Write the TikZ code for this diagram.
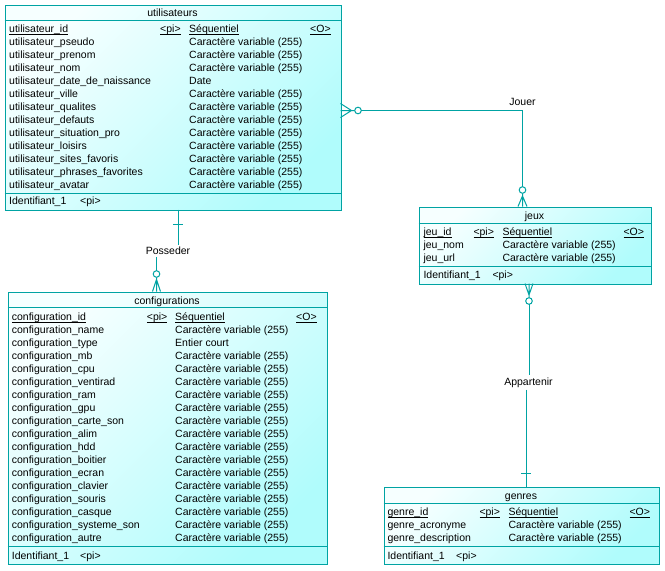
\documentclass[tikz,border=0pt]{standalone}
\usepackage{fontspec}
\setmainfont{Liberation Sans}
\usetikzlibrary{positioning}

\definecolor{ermteal}{RGB}{0,163,163}
\definecolor{ermlight}{RGB}{246,255,255}
\definecolor{ermcyan}{RGB}{176,252,252}
\newcommand{\varchar}{Caract\`ere variable (255)}
\newcommand{\ulkey}[1]{\setbox0\hbox{#1}\rlap{\rule[-1.9pt]{\wd0}{0.8pt}}\box0}

\begin{document}
\begin{tikzpicture}[
  x=1pt, y=-1pt,
  font=\fontsize{10.5}{12}\selectfont,
  entity/.style={draw=ermteal, line width=1pt, top color=ermlight, bottom color=ermcyan, shading angle=45, anchor=north west, inner sep=0pt},
  sep/.style={draw=ermteal, line width=1pt},
  title/.style={anchor=base, inner sep=0pt},
  fld/.style={anchor=base west, inner sep=0pt},
  rel/.style={draw=ermteal, line width=1pt},
  lbl/.style={anchor=base, inner sep=2pt}
]
  \useasboundingbox (0,0) rectangle (665,571);

  % utilisateurs
  \node[entity, minimum width=336pt, minimum height=205pt] (utilisateurs) at (4.5,4.5) {};
  \node[title] (u-title) at (172.5,16.3) {utilisateurs};
  \draw[sep] (4.5,20.5) -- (340.5,20.5);
  \draw[sep] (4.5,193.5) -- (340.5,193.5);
  \node[fld] (u-id) at (9,32.7) {\ulkey{utilisateur\_id}};
  \node[fld] (u-pi) at (160,32.7) {\ulkey{<pi>}};
  \node[fld] (u-seq) at (189,32.7) {\ulkey{Séquentiel}};
  \node[fld] (u-o) at (310,32.7) {\ulkey{<O>}};
  \foreach \f/\t [count=\i] in {pseudo/\varchar, prenom/\varchar, nom/\varchar,
      date\_de\_naissance/Date, ville/\varchar, qualites/\varchar, defauts/\varchar,
      situation\_pro/\varchar, loisirs/\varchar, sites\_favoris/\varchar,
      phrases\_favorites/\varchar, avatar/\varchar} {
    \node[fld] (u-\i) at (9,32.7+13*\i) {utilisateur\_\f};
    \node[fld] (u-t\i) at (189,32.7+13*\i) {\t};
  }
  \node[fld] (u-foot) at (9,204.7) {Identifiant\_1};
  \node[fld] (u-fpi) at (80,204.7) {<pi>};

  % configurations
  \node[entity, minimum width=319pt, minimum height=272pt] (configurations) at (7.5,291.5) {};
  \node[title] (c-title) at (167,304) {configurations};
  \draw[sep] (7.5,307.5) -- (326.5,307.5);
  \draw[sep] (7.5,546.5) -- (326.5,546.5);
  \node[fld] (c-id) at (11.7,320.7) {\ulkey{configuration\_id}};
  \node[fld] (c-pi) at (146.7,320.7) {\ulkey{<pi>}};
  \node[fld] (c-seq) at (175,320.7) {\ulkey{Séquentiel}};
  \node[fld] (c-o) at (296,320.7) {\ulkey{<O>}};
  \foreach \f/\t [count=\i] in {name/\varchar, type/Entier court, mb/\varchar,
      cpu/\varchar, ventirad/\varchar, ram/\varchar, gpu/\varchar,
      carte\_son/\varchar, alim/\varchar, hdd/\varchar, boitier/\varchar,
      ecran/\varchar, clavier/\varchar, souris/\varchar, casque/\varchar,
      systeme\_son/\varchar, autre/\varchar} {
    \node[fld] (c-\i) at (11.7,320.7+13*\i) {configuration\_\f};
    \node[fld] (c-t\i) at (175,320.7+13*\i) {\t};
  }
  \node[fld] (c-foot) at (11.7,559) {Identifiant\_1};
  \node[fld] (c-fpi) at (80,559) {<pi>};

  % jeux
  \node[entity, minimum width=232pt, minimum height=77pt] (jeux) at (418.5,206.5) {};
  \node[title] (j-title) at (534.5,219.5) {jeux};
  \draw[sep] (418.5,223.5) -- (650.5,223.5);
  \draw[sep] (418.5,266.5) -- (650.5,266.5);
  \node[fld] (j-id) at (423.3,235.7) {\ulkey{jeu\_id}};
  \node[fld] (j-pi) at (473.3,235.7) {\ulkey{<pi>}};
  \node[fld] (j-seq) at (502.3,235.7) {\ulkey{Séquentiel}};
  \node[fld] (j-o) at (623.3,235.7) {\ulkey{<O>}};
  \node[fld] (j-1) at (423.3,248.7) {jeu\_nom};
  \node[fld] (j-t1) at (502.3,248.7) {\varchar};
  \node[fld] (j-2) at (423.3,261.7) {jeu\_url};
  \node[fld] (j-t2) at (502.3,261.7) {\varchar};
  \node[fld] (j-foot) at (423.3,278) {Identifiant\_1};
  \node[fld] (j-fpi) at (492.3,278) {<pi>};

  % genres
  \node[entity, minimum width=275pt, minimum height=77pt] (genres) at (383.5,486.5) {};
  \node[title] (g-title) at (521,499) {genres};
  \draw[sep] (383.5,503.5) -- (658.5,503.5);
  \draw[sep] (383.5,546.5) -- (658.5,546.5);
  \node[fld] (g-id) at (387.3,515.7) {\ulkey{genre\_id}};
  \node[fld] (g-pi) at (479.3,515.7) {\ulkey{<pi>}};
  \node[fld] (g-seq) at (508.3,515.7) {\ulkey{Séquentiel}};
  \node[fld] (g-o) at (629.3,515.7) {\ulkey{<O>}};
  \node[fld] (g-1) at (387.3,528.7) {genre\_acronyme};
  \node[fld] (g-t1) at (508.3,528.7) {\varchar};
  \node[fld] (g-2) at (387.3,541.7) {genre\_description};
  \node[fld] (g-t2) at (508.3,541.7) {\varchar};
  \node[fld] (g-foot) at (387.3,559) {Identifiant\_1};
  \node[fld] (g-fpi) at (456,559) {<pi>};

  % Posseder: utilisateurs 1 -- 0,n configurations
  \node[lbl] (posseder) at (168,254.5) {Posseder};
  \coordinate (u-pos) at (178,209.5);
  \coordinate (c-pos) at (156.5,291.5);
  \draw[rel] (u-pos) -- (u-pos |- posseder.north);
  \draw[rel] (173,224) -- (183,224);
  \draw[rel] (c-pos |- posseder.south) -- (156.5,270.7);
  \draw[rel] (156.5,274) circle (3.3pt);
  \draw[rel] (156.5,277.3) -- (156.5,279.5) (152.5,291.5) -- (156.5,279.5) -- (160.5,291.5)
    (156.5,279.5) -- (c-pos);

  % Jouer: utilisateurs 0,n -- 0,n jeux
  \node[lbl] (jouer) at (522.5,105.5) {Jouer};
  \coordinate (u-jou) at (340.5,110.5);
  \coordinate (j-jou) at (522.5,206.5);
  \draw[rel] (340.5,103.5) -- (351.5,110.5) -- (340.5,117.5) (u-jou) -- (354.7,110.5);
  \draw[rel] (358,110.5) circle (3.3pt);
  \draw[rel] (361.3,110.5) -| (522.5,186.7);
  \draw[rel] (522.5,190) circle (3.3pt);
  \draw[rel] (522.5,193.3) -- (522.5,196) (518,206.5) -- (522.5,196) -- (527,206.5)
    (522.5,196) -- (j-jou);

  % Appartenir: jeux 0,n -- 1 genres
  \node[lbl] (appartenir) at (528.5,385.3) {Appartenir};
  \coordinate (j-app) at (529,283.5);
  \coordinate (g-app) at (526,486.5);
  \draw[rel] (525,283.5) -- (529,295) -- (533,283.5) (j-app) -- (529,297.7);
  \draw[rel] (529,301) circle (3.3pt);
  \draw[rel] (529,304.3) -- (j-app |- appartenir.north);
  \draw[rel] (g-app |- appartenir.south) -- (g-app);
  \draw[rel] (521,473) -- (531,473);
\end{tikzpicture}
\end{document}
